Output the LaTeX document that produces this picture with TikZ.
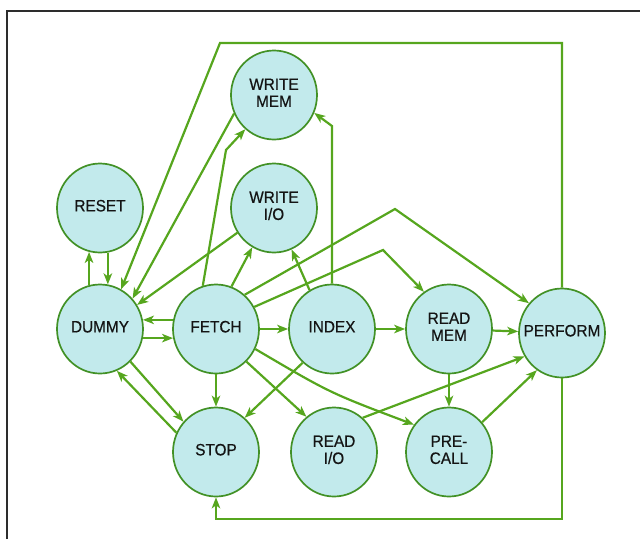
\documentclass[tikz,border=0pt]{standalone}
\usepackage{fontspec}
\setmainfont{Liberation Sans}[FakeStretch=0.93,FakeBold=0.5]
\usetikzlibrary{shapes.geometric,arrows.meta}
\definecolor{cfill}{RGB}{194,234,236}
\definecolor{cring}{RGB}{66,145,38}
\definecolor{cedge}{RGB}{86,166,30}
\definecolor{ctext}{RGB}{20,20,20}
\definecolor{cframe}{RGB}{45,45,45}
\newcommand\lbl[1]{\makebox[0pt]{\begin{tabular}{@{}c@{}}#1\end{tabular}}}
\begin{document}
\begin{tikzpicture}[x=1pt,y=-1pt,
  stnode/.style={ellipse, draw=cring, line width=1.7pt, fill=cfill,
    minimum width=86pt, minimum height=89pt, inner sep=0pt, text=ctext,
    font=\fontsize{16.5}{17}\selectfont},
  arr/.style={draw=cedge, line width=2.2pt, -{Stealth[length=11pt,width=8.5pt,inset=3pt]}},
  framestyle/.style={draw=cframe, line width=2pt}]
\useasboundingbox (0,0) rectangle (640,539);
\draw[framestyle] (6.5,539) -- (6.5,10.5) -- (640,10.5);

\node[stnode] (wmem) at (274,95) {\lbl{WRITE\\MEM}};
\node[stnode] (reset) at (100,208) {\lbl{RESET}};
\node[stnode] (wio) at (274,208) {\lbl{WRITE\\I/O}};
\node[stnode] (dummy) at (100,329) {\lbl{DUMMY}};
\node[stnode] (fetch) at (216,329) {\lbl{FETCH}};
\node[stnode] (index) at (332,329) {\lbl{INDEX}};
\node[stnode] (rmem) at (449,329) {\lbl{READ\\MEM}};
\node[stnode] (perform) at (562,333) {\lbl{PERFORM}};
\node[stnode] (stop) at (216,452) {\lbl{STOP}};
\node[stnode] (rio) at (334,452) {\lbl{READ\\I/O}};
\node[stnode] (precall) at (449,452) {\lbl{PRE-\\CALL}};

\coordinate (wmbend) at (226,150);
\coordinate (ixtop) at (332,126);
\coordinate (peakA) at (395,209);
\coordinate (peakB) at (383,250);
\coordinate (fpctrl) at (330,393);
\coordinate (botR) at (562,519);
\coordinate (botL) at (216,519);
\coordinate (topR) at (562,43);
\coordinate (topL) at (220,43);

\draw[arr] (dummy.104) -- (reset.256);
\draw[arr] (reset.280) -- (dummy.80);
\draw[arr] (fetch.168) -- (dummy.12);
\draw[arr] (dummy.-12) -- (fetch.192);
\draw[arr] (fetch) -- (index);
\draw[arr] (index) -- (rmem);
\draw[arr] (rmem) -- (perform);
\draw[arr] (rmem.south) -- (precall.north);
\draw[arr] (precall.42) -- (perform.236);
\draw[arr] (rio.50) -- (perform.212);
\draw[arr] (fetch.south) -- (stop.north);
\draw[arr] (fetch.-47) -- (rio.128);
\draw[arr] (fetch.-27) .. controls (fpctrl) .. (precall.142);
\draw[arr] (index.229) -- (stop.50);
\draw[arr] (dummy.-47) -- (stop.137);
\draw[arr] (stop.154) -- (dummy.-68);
\draw[arr] (index.120) -- (wio.-67);
\draw[arr] (fetch.70) -- (wio.241);
\draw[arr] (wio.214) -- (dummy.33);
\draw[arr] (fetch.107) -- (wmbend) -- (wmem.230);
\draw[arr] (wmem.205) -- (dummy.43);
\draw[arr] (index.north) -- (ixtop) -- (wmem.-24);
\draw[arr] (fetch.50) -- (peakA) -- (perform.138);
\draw[arr] (fetch.30) -- (peakB) -- (rmem.124);
\draw[arr] (perform.south) -- (botR) -- (botL) -- (stop.south);
\draw[arr] (perform.north) -- (topR) -- (topL) -- (dummy.62);
\end{tikzpicture}
\end{document}
